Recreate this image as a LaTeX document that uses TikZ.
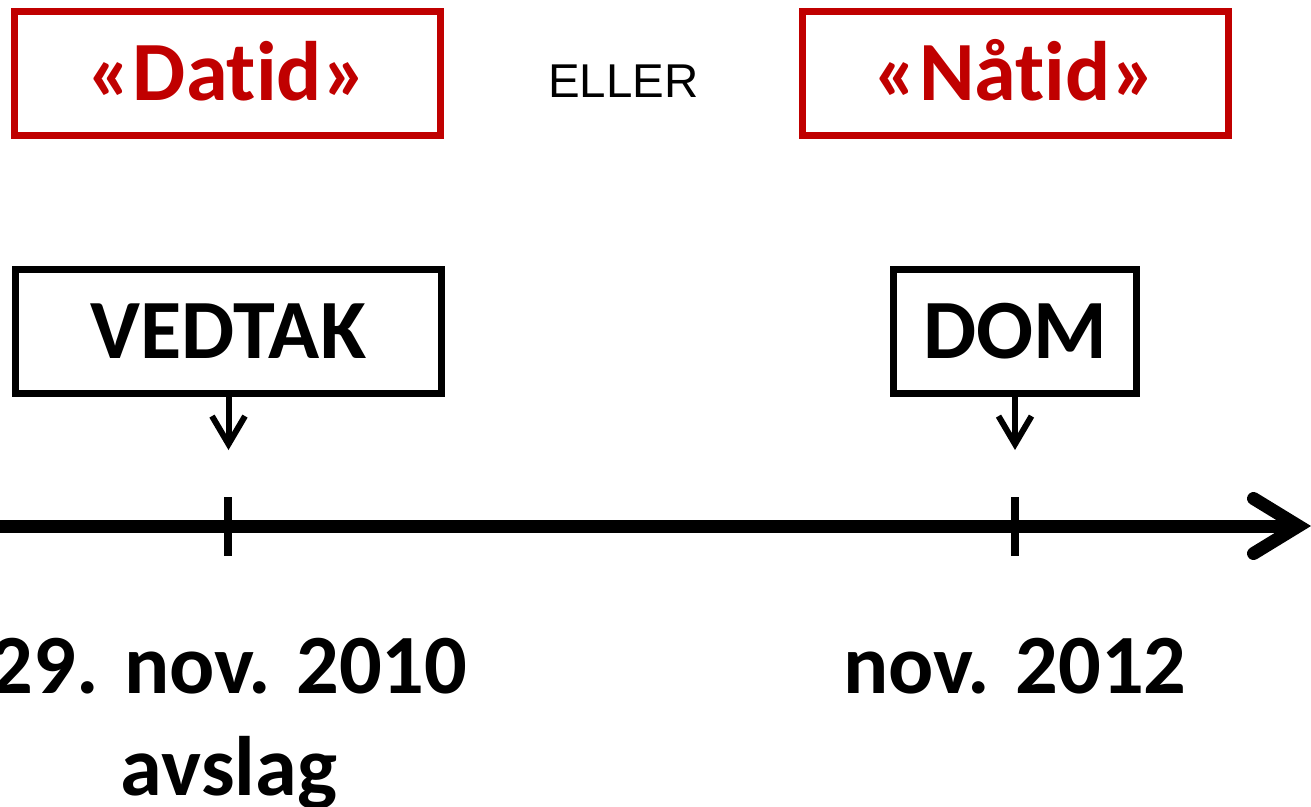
\documentclass[tikz,border=0pt]{standalone}
\usepackage{fontspec}
\setmainfont{Carlito}[Ligatures=NoCommon]
\newfontfamily\arialfont{Liberation Sans}
\usetikzlibrary{arrows.meta}
\definecolor{crimson}{RGB}{192,0,0}
\definecolor{ink}{RGB}{0,0,0}
\tikzset{
  >={Straight Barb[length=5.6mm,width=6.6mm]},
  era/.style={draw=crimson,text=crimson,line width=1.4mm,inner sep=0pt,
    minimum width=85.2mm,minimum height=24.8mm,text height=10.8mm,text depth=0pt,
    font=\fontsize{48}{58}\selectfont\bfseries},
  event/.style={era,draw=ink,text=ink},
  pointer/.style={->,line width=1.2mm,draw=ink},
  timeline/.style={-{Straight Barb[length=9mm,width=11mm,line cap=round]},line width=2.6mm,draw=ink},
  ticmark/.style={line width=1.6mm,draw=ink},
  datelabel/.style={font=\fontsize{48}{58}\selectfont\bfseries,align=center,anchor=base},
}
\begin{document}
\begin{tikzpicture}[x=0.2mm,y=-0.2mm]
  \useasboundingbox (0,0) rectangle (1311,806);
  % periods
  \node[era] (datid) at (227.5,73.5) {«Datid»};
  \node[font=\arialfont\fontsize{27}{32}\selectfont,anchor=base] (eller) at (623.5,97) {ELLER};
  \node[era] (natid) at (1015,73.5) {«Nåtid»};
  % events
  \node[event] (vedtak) at (228.5,331) {VEDTAK};
  \node[event,minimum width=48.6mm] (dom) at (1015,331) {DOM};
  \coordinate (vedtak hit) at (vedtak.south |- 0,450);
  \coordinate (dom hit) at (dom.south |- 0,450);
  \draw[pointer] (vedtak) -- (vedtak hit);
  \draw[pointer] (dom) -- (dom hit);
  % time axis
  \coordinate (axis start) at (0,526);
  \coordinate (axis end) at (1311,526);
  \draw[timeline] (axis start) -- (axis end);
  \draw[ticmark] (228,497) -- (228,556);
  \draw[ticmark] (1015,497) -- (1015,556);
  \node[datelabel] (vedtak date) at (229,795) {29. nov. 2010\\avslag};
  \node[datelabel] (dom date) at (1015,693) {nov. 2012};
\end{tikzpicture}
\end{document}
